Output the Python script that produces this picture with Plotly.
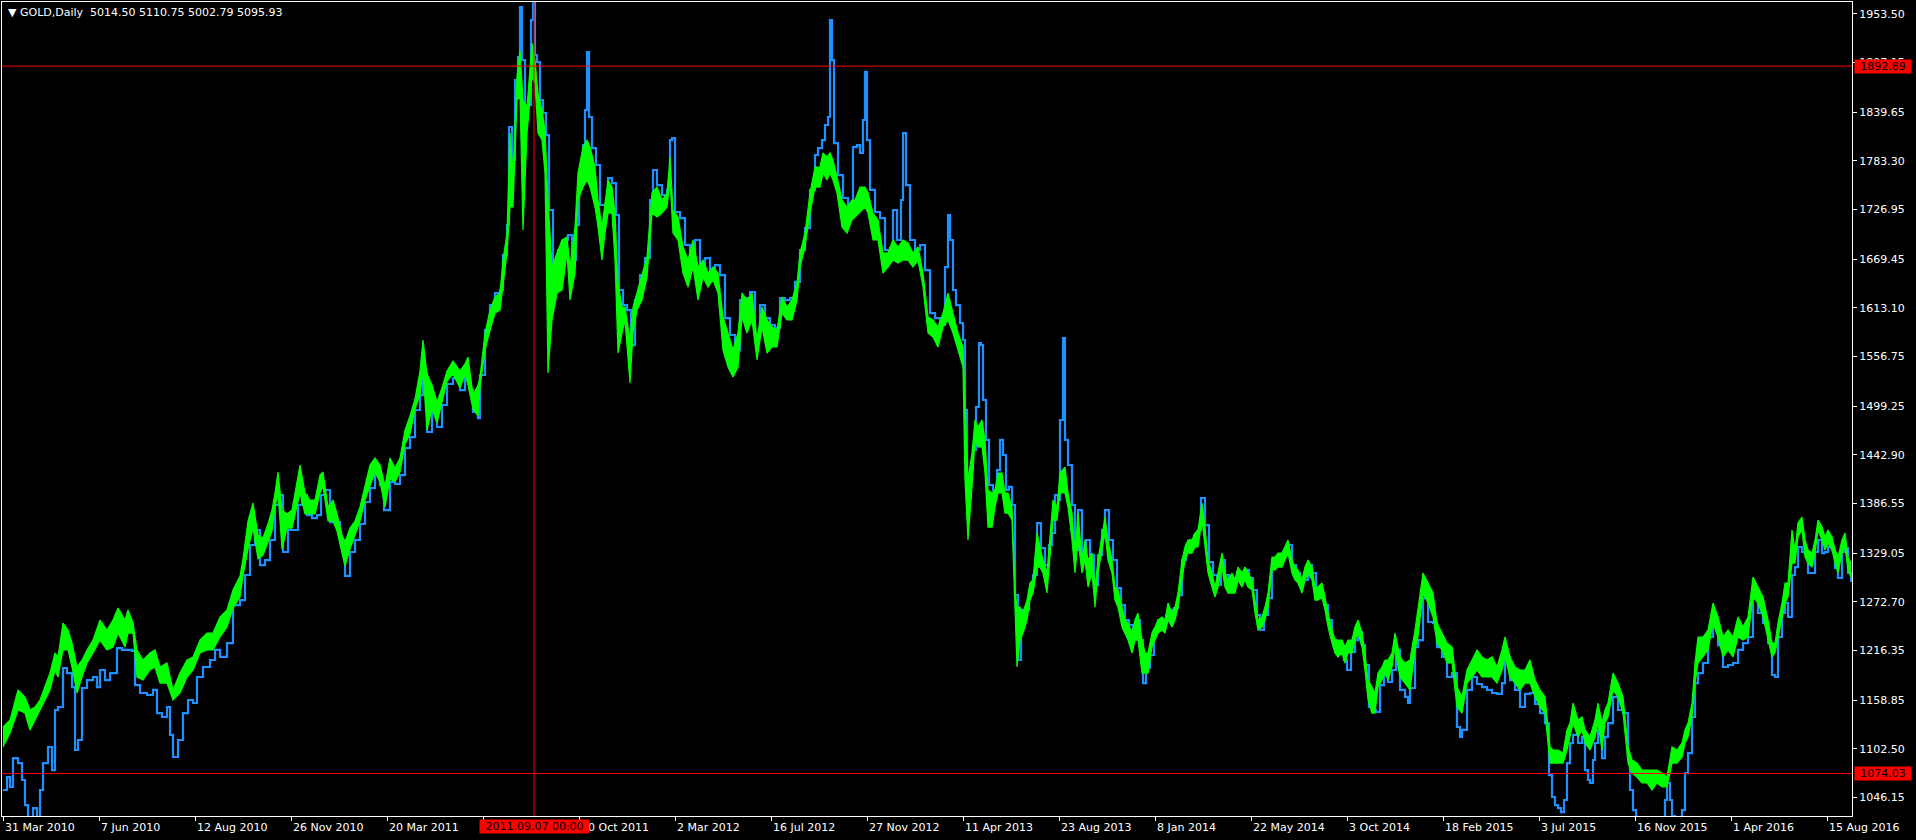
import plotly.graph_objects as go

# ---------------- data ----------------
GREEN_BAR = [
    3, 10, 18, 25, 30, 35, 40, 45, 50, 55,
    58, 63, 68, 72, 77, 82, 87, 93, 100, 107,
    113, 118, 125, 128, 133, 137, 143, 150, 155, 160,
    167, 173, 180, 187, 193, 200, 207, 213, 220, 227,
    233, 240, 243, 248, 253, 258, 263, 268, 272, 275,
    278, 282, 287, 292, 297, 300, 305, 310, 315, 320,
    323, 328, 333, 337, 342, 345, 350, 355, 360, 365,
    370, 375, 380, 385, 390, 395, 400, 405, 410, 415,
    420, 423, 427, 432, 437, 442, 447, 453, 460, 465,
    468, 473, 478, 480, 485, 490, 495, 500, 503, 507,
    510, 513, 517, 520, 523, 527, 532, 535, 538, 542,
    545, 548, 552, 557, 562, 567, 570, 575, 578, 583,
    587, 590, 595, 598, 602, 605, 608, 612, 615, 618,
    622, 625, 630, 633, 637, 642, 647, 652, 657, 662,
    667, 670, 673, 678, 683, 688, 693, 698, 703, 708,
    713, 718, 723, 728, 733, 738, 742, 747, 752, 757,
    762, 767, 772, 777, 782, 787, 792, 797, 800, 805,
    810, 815, 820, 823, 827, 830, 833, 837, 842, 847,
    852, 855, 860, 865, 868, 873, 878, 883, 888, 893,
    898, 903, 908, 913, 918, 923, 928, 933, 938, 943,
    948, 953, 958, 963, 965, 968, 972, 975, 978, 982,
    985, 988, 992, 995, 998, 1002, 1005, 1008, 1012, 1015,
    1017, 1020, 1023, 1027, 1030, 1033, 1037, 1040, 1043, 1047,
    1050, 1053, 1057, 1060, 1065, 1068, 1072, 1075, 1078, 1082,
    1085, 1088, 1092, 1095, 1098, 1102, 1105, 1108, 1112, 1115,
    1118, 1122, 1125, 1128, 1132, 1135, 1138, 1142, 1145, 1148,
    1152, 1155, 1158, 1162, 1165, 1168, 1172, 1175, 1178, 1182,
    1185, 1188, 1192, 1195, 1198, 1202, 1205, 1208, 1212, 1215,
    1218, 1222, 1225, 1228, 1232, 1235, 1238, 1242, 1245, 1248,
    1252, 1255, 1258, 1262, 1265, 1268, 1272, 1275, 1278, 1282,
    1285, 1288, 1292, 1295, 1298, 1302, 1305, 1308, 1312, 1315,
    1318, 1322, 1325, 1328, 1332, 1335, 1338, 1342, 1345, 1348,
    1352, 1355, 1358, 1362, 1365, 1368, 1372, 1375, 1378, 1382,
    1385, 1388, 1392, 1395, 1398, 1400, 1405, 1410, 1415, 1418,
    1423, 1428, 1433, 1437, 1442, 1447, 1452, 1457, 1462, 1467,
    1472, 1477, 1482, 1487, 1492, 1497, 1502, 1505, 1510, 1515,
    1520, 1525, 1530, 1535, 1540, 1545, 1550, 1553, 1558, 1563,
    1567, 1570, 1573, 1578, 1582, 1585, 1590, 1595, 1598, 1602,
    1605, 1608, 1613, 1618, 1623, 1628, 1632, 1637, 1642, 1647,
    1652, 1657, 1662, 1667, 1672, 1677, 1682, 1685, 1688, 1692,
    1695, 1698, 1703, 1708, 1713, 1718, 1723, 1728, 1733, 1738,
    1743, 1748, 1753, 1758, 1763, 1768, 1772, 1775, 1778, 1782,
    1785, 1788, 1792, 1795, 1798, 1802, 1805, 1808, 1812, 1815,
    1818, 1822, 1825, 1828, 1832, 1835, 1838, 1842, 1845, 1848,
    1851,
]

GREEN_HIGH = [
    1127.8, 1135.9, 1170.7, 1162.6, 1147.5, 1151.0, 1159.1, 1174.1, 1190.3, 1213.5,
    1208.9, 1248.2, 1240.1, 1225.0, 1197.3, 1205.4, 1217.0, 1228.5, 1251.7, 1240.1,
    1251.7, 1265.6, 1251.7, 1263.3, 1248.2, 1217.0, 1205.4, 1213.5, 1217.0, 1197.3,
    1201.9, 1170.7, 1190.3, 1205.4, 1208.9, 1228.5, 1236.6, 1236.6, 1255.2, 1263.3,
    1286.4, 1302.7, 1322.3, 1366.3, 1387.1, 1350.1, 1346.6, 1362.8, 1379.0, 1398.7,
    1423.0, 1379.0, 1374.4, 1379.0, 1414.9, 1431.1, 1398.7, 1390.6, 1390.6, 1419.5,
    1423.0, 1382.5, 1390.6, 1374.4, 1350.1, 1342.0, 1358.1, 1366.3, 1382.5, 1406.9,
    1431.1, 1439.2, 1431.1, 1406.9, 1439.2, 1427.6, 1439.2, 1471.6, 1487.9, 1507.5,
    1539.9, 1575.8, 1536.5, 1523.7, 1504.1, 1520.2, 1539.9, 1551.5, 1539.9, 1548.1,
    1556.1, 1512.1, 1523.7, 1533.0, 1583.9, 1610.5, 1625.6, 1630.2, 1668.4, 1699.7,
    1815.4, 1769.1, 1880.3, 1911.5, 1853.6, 1845.5, 1919.6, 1899.9, 1861.7, 1842.1,
    1818.9, 1737.9, 1660.3, 1676.5, 1691.6, 1695.1, 1660.3, 1706.6, 1769.1, 1799.2,
    1807.3, 1799.2, 1776.1, 1737.9, 1706.6, 1734.4, 1761.0, 1752.9, 1722.8, 1641.8,
    1614.0, 1614.0, 1575.8, 1614.0, 1630.2, 1653.3, 1671.9, 1746.0, 1752.9, 1737.9,
    1746.0, 1787.7, 1726.3, 1718.2, 1683.5, 1668.4, 1691.6, 1660.3, 1668.4, 1653.3,
    1660.3, 1653.3, 1602.4, 1583.9, 1564.2, 1583.9, 1630.2, 1622.1, 1630.2, 1575.8,
    1614.0, 1599.0, 1590.9, 1587.4, 1625.6, 1614.0, 1622.1, 1641.8, 1676.5, 1699.7,
    1746.0, 1776.1, 1776.1, 1792.3, 1787.7, 1792.3, 1784.2, 1764.5, 1737.9, 1729.8,
    1737.9, 1737.9, 1752.9, 1752.9, 1746.0, 1722.8, 1714.7, 1676.5, 1676.5, 1691.6,
    1683.5, 1691.6, 1688.1, 1676.5, 1683.5, 1653.3, 1602.4, 1599.0, 1590.9, 1607.0,
    1630.2, 1607.0, 1583.9, 1567.7, 1498.3, 1413.8, 1445.0, 1483.2, 1475.1, 1483.2,
    1460.1, 1402.2, 1398.7, 1402.2, 1421.8, 1421.8, 1398.7, 1398.7, 1382.5, 1286.4,
    1266.7, 1266.7, 1259.8, 1274.8, 1294.5, 1298.0, 1352.4, 1336.2, 1321.1, 1306.1,
    1344.3, 1390.6, 1382.5, 1421.8, 1428.8, 1398.7, 1375.5, 1329.2, 1375.5, 1321.1,
    1344.3, 1321.1, 1329.2, 1289.9, 1321.1, 1352.4, 1370.9, 1344.3, 1321.1, 1289.9,
    1286.4, 1266.7, 1251.7, 1248.2, 1236.6, 1251.7, 1259.8, 1228.5, 1213.5, 1213.5,
    1236.6, 1243.6, 1251.7, 1255.2, 1251.7, 1271.3, 1259.8, 1266.7, 1282.9, 1321.1,
    1336.2, 1344.3, 1344.3, 1352.4, 1355.9, 1387.1, 1359.3, 1321.1, 1306.1, 1289.9,
    1306.1, 1329.2, 1306.1, 1298.0, 1306.1, 1298.0, 1313.0, 1306.1, 1313.0, 1306.1,
    1298.0, 1274.8, 1251.7, 1255.2, 1266.7, 1282.9, 1324.6, 1324.6, 1329.2, 1329.2,
    1336.2, 1344.3, 1321.1, 1313.0, 1309.6, 1298.0, 1313.0, 1321.1, 1313.0, 1289.9,
    1289.9, 1294.5, 1278.3, 1259.8, 1240.1, 1228.5, 1228.5, 1228.5, 1220.4, 1228.5,
    1228.5, 1243.6, 1251.7, 1236.6, 1213.5, 1182.2, 1174.1, 1167.2, 1190.3, 1197.3,
    1205.4, 1205.4, 1213.5, 1236.6, 1220.4, 1208.9, 1201.9, 1205.4, 1240.1, 1263.3,
    1306.1, 1294.5, 1282.9, 1248.2, 1236.6, 1225.0, 1220.4, 1174.1, 1162.6, 1193.8,
    1205.4, 1217.0, 1208.9, 1205.4, 1208.9, 1197.3, 1217.0, 1232.0, 1208.9, 1197.3,
    1193.8, 1193.8, 1205.4, 1182.2, 1170.7, 1162.6, 1104.7, 1101.2, 1101.2, 1097.7,
    1124.4, 1132.4, 1155.6, 1135.9, 1139.4, 1124.4, 1116.3, 1135.9, 1155.6, 1132.4,
    1147.5, 1155.6, 1190.3, 1178.7, 1162.6, 1104.7, 1089.6, 1086.1, 1078.0, 1078.0,
    1078.0, 1078.0, 1074.5, 1069.9, 1104.7, 1101.2, 1109.3, 1124.4, 1132.4, 1155.6,
    1201.9, 1232.0, 1232.0, 1240.1, 1271.3, 1255.2, 1232.0, 1240.1, 1232.0, 1255.2,
    1243.6, 1255.2, 1301.5, 1289.9, 1278.3, 1251.7, 1225.0, 1225.0, 1248.2, 1271.3,
    1294.5, 1294.5, 1355.9, 1332.7, 1363.9, 1370.9, 1344.3, 1332.7, 1329.2, 1344.3,
    1367.4, 1359.3, 1347.8, 1355.9, 1347.8, 1332.7, 1324.6, 1344.3, 1352.4, 1324.6,
    1317.6,
]

GREEN_LOW = [
    1104.7, 1120.9, 1147.5, 1144.0, 1124.4, 1135.9, 1147.5, 1159.1, 1170.7, 1193.8,
    1185.7, 1217.0, 1217.0, 1197.3, 1167.2, 1185.7, 1201.9, 1213.5, 1228.5, 1217.0,
    1220.4, 1236.6, 1220.4, 1236.6, 1236.6, 1185.7, 1182.2, 1193.8, 1197.3, 1178.7,
    1178.7, 1159.1, 1167.2, 1185.7, 1193.8, 1213.5, 1217.0, 1217.0, 1232.0, 1243.6,
    1265.6, 1278.3, 1302.7, 1333.9, 1358.1, 1322.3, 1326.9, 1342.0, 1354.7, 1382.5,
    1398.7, 1333.9, 1358.1, 1358.1, 1382.5, 1398.7, 1374.4, 1374.4, 1374.4, 1398.7,
    1406.9, 1366.3, 1366.3, 1354.7, 1326.9, 1314.2, 1333.9, 1350.1, 1366.3, 1390.6,
    1406.9, 1423.0, 1411.5, 1382.5, 1414.9, 1411.5, 1423.0, 1455.5, 1467.0, 1496.0,
    1512.1, 1539.9, 1471.6, 1496.0, 1479.7, 1504.1, 1528.3, 1536.5, 1520.2, 1536.5,
    1523.7, 1496.0, 1487.9, 1521.4, 1564.2, 1587.4, 1607.0, 1610.5, 1641.8, 1676.5,
    1729.8, 1729.8, 1853.6, 1857.1, 1703.2, 1815.4, 1880.3, 1873.3, 1815.4, 1807.3,
    1769.1, 1537.6, 1599.0, 1630.2, 1633.7, 1676.5, 1622.1, 1653.3, 1737.9, 1752.9,
    1761.0, 1752.9, 1729.8, 1706.6, 1668.4, 1699.7, 1722.8, 1722.8, 1668.4, 1560.7,
    1583.9, 1599.0, 1526.0, 1583.9, 1610.5, 1622.1, 1648.7, 1722.8, 1718.2, 1722.8,
    1729.8, 1761.0, 1699.7, 1691.6, 1653.3, 1637.2, 1660.3, 1622.1, 1648.7, 1637.2,
    1645.3, 1630.2, 1564.2, 1544.6, 1533.0, 1544.6, 1602.4, 1583.9, 1599.0, 1552.7,
    1590.9, 1560.7, 1567.7, 1567.7, 1607.0, 1599.0, 1599.0, 1622.1, 1660.3, 1683.5,
    1722.8, 1752.9, 1752.9, 1769.1, 1761.0, 1769.1, 1761.0, 1746.0, 1706.6, 1699.7,
    1714.7, 1718.2, 1722.8, 1729.8, 1722.8, 1691.6, 1691.6, 1653.3, 1660.3, 1668.4,
    1664.9, 1668.4, 1668.4, 1660.3, 1668.4, 1637.2, 1583.9, 1579.3, 1567.7, 1590.9,
    1599.0, 1583.9, 1564.2, 1544.6, 1413.8, 1344.3, 1405.7, 1460.1, 1452.0, 1452.0,
    1421.8, 1359.3, 1359.3, 1382.5, 1398.7, 1398.7, 1375.5, 1375.5, 1367.4, 1263.3,
    1197.3, 1228.5, 1236.6, 1251.7, 1274.8, 1282.9, 1313.0, 1313.0, 1306.1, 1282.9,
    1321.1, 1367.4, 1367.4, 1398.7, 1398.7, 1382.5, 1344.3, 1306.1, 1344.3, 1306.1,
    1321.1, 1289.9, 1306.1, 1266.7, 1306.1, 1332.7, 1352.4, 1321.1, 1306.1, 1274.8,
    1266.7, 1243.6, 1236.6, 1228.5, 1213.5, 1228.5, 1228.5, 1190.3, 1190.3, 1190.3,
    1220.4, 1228.5, 1236.6, 1240.1, 1236.6, 1251.7, 1243.6, 1251.7, 1266.7, 1298.0,
    1321.1, 1329.2, 1329.2, 1336.2, 1336.2, 1367.4, 1336.2, 1306.1, 1289.9, 1278.3,
    1289.9, 1313.0, 1289.9, 1282.9, 1282.9, 1282.9, 1298.0, 1289.9, 1298.0, 1289.9,
    1286.4, 1259.8, 1240.1, 1243.6, 1251.7, 1266.7, 1309.6, 1309.6, 1313.0, 1313.0,
    1321.1, 1329.2, 1306.1, 1298.0, 1294.5, 1282.9, 1298.0, 1306.1, 1298.0, 1274.8,
    1274.8, 1278.3, 1263.3, 1243.6, 1225.0, 1213.5, 1208.9, 1213.5, 1201.9, 1213.5,
    1213.5, 1228.5, 1236.6, 1220.4, 1193.8, 1159.1, 1144.0, 1144.0, 1174.1, 1182.2,
    1190.3, 1182.2, 1197.3, 1220.4, 1197.3, 1185.7, 1178.7, 1170.7, 1217.0, 1232.0,
    1282.9, 1271.3, 1255.2, 1225.0, 1217.0, 1201.9, 1201.9, 1151.0, 1144.0, 1178.7,
    1185.7, 1193.8, 1185.7, 1185.7, 1185.7, 1178.7, 1193.8, 1208.9, 1185.7, 1178.7,
    1170.7, 1178.7, 1178.7, 1162.6, 1151.0, 1144.0, 1086.1, 1086.1, 1086.1, 1086.1,
    1101.2, 1116.3, 1132.4, 1116.3, 1124.4, 1109.3, 1101.2, 1116.3, 1132.4, 1101.2,
    1132.4, 1139.4, 1170.7, 1162.6, 1144.0, 1086.1, 1074.5, 1069.9, 1063.0, 1063.0,
    1054.9, 1063.0, 1058.4, 1058.4, 1086.1, 1086.1, 1093.1, 1109.3, 1116.3, 1139.4,
    1178.7, 1201.9, 1208.9, 1217.0, 1248.2, 1232.0, 1208.9, 1217.0, 1208.9, 1232.0,
    1228.5, 1232.0, 1278.3, 1271.3, 1255.2, 1228.5, 1208.9, 1213.5, 1232.0, 1255.2,
    1271.3, 1278.3, 1317.6, 1317.6, 1347.8, 1355.9, 1324.6, 1317.6, 1313.0, 1329.2,
    1355.9, 1344.3, 1332.7, 1340.8, 1332.7, 1317.6, 1306.1, 1329.2, 1336.2, 1309.6,
    1301.5,
]

BLUE_BAR = [
    3, 7, 10, 13, 18, 22, 25, 28, 30, 33,
    37, 40, 43, 48, 52, 55, 58, 63, 67, 72,
    75, 78, 82, 87, 93, 97, 100, 105, 110, 117,
    122, 127, 132, 135, 140, 147, 153, 157, 162, 167,
    170, 173, 178, 183, 188, 193, 197, 203, 210, 215,
    220, 227, 233, 240, 245, 250, 255, 260, 265, 270,
    275, 279, 283, 288, 293, 298, 302, 307, 312, 317,
    321, 325, 330, 335, 340, 345, 350, 355, 360, 365,
    370, 375, 380, 384, 390, 395, 400, 405, 410, 415,
    420, 423, 427, 432, 437, 442, 447, 453, 460, 465,
    470, 473, 478, 480, 485, 490, 495, 500, 503, 507,
    509, 512, 515, 518, 520, 522, 525, 528, 531, 533,
    535, 537, 540, 543, 546, 549, 553, 558, 563, 568,
    572, 576, 579, 583, 585, 587, 589, 592, 596, 600,
    604, 608, 612, 616, 619, 623, 627, 631, 635, 640,
    645, 650, 653, 657, 662, 667, 670, 672, 675, 680,
    685, 690, 695, 700, 705, 710, 715, 720, 725, 730,
    735, 740, 745, 750, 755, 760, 765, 770, 775, 780,
    785, 790, 795, 800, 805, 810, 815, 818, 822, 825,
    828, 830, 832, 834, 838, 843, 848, 853, 857, 860,
    863, 865, 867, 870, 875, 880, 885, 890, 893, 897,
    901, 903, 906, 910, 915, 920, 925, 930, 935, 940,
    945, 948, 950, 953, 956, 960, 963, 965, 967, 970,
    973, 976, 979, 981, 983, 986, 989, 993, 997, 1000,
    1003, 1006, 1009, 1012, 1015, 1018, 1021, 1025, 1029, 1033,
    1037, 1041, 1045, 1049, 1052, 1055, 1058, 1060, 1063, 1065,
    1068, 1072, 1075, 1078, 1082, 1086, 1090, 1094, 1098, 1102,
    1105, 1109, 1113, 1117, 1121, 1125, 1129, 1133, 1137, 1140,
    1143, 1146, 1150, 1154, 1158, 1162, 1166, 1170, 1174, 1178,
    1182, 1186, 1190, 1194, 1198, 1201, 1205, 1209, 1213, 1217,
    1221, 1225, 1229, 1233, 1237, 1241, 1245, 1249, 1253, 1257,
    1260, 1264, 1268, 1272, 1276, 1280, 1284, 1288, 1292, 1296,
    1300, 1304, 1308, 1312, 1316, 1320, 1324, 1328, 1332, 1336,
    1340, 1344, 1347, 1351, 1355, 1358, 1362, 1365, 1369, 1373,
    1376, 1380, 1384, 1388, 1392, 1396, 1400, 1405, 1408, 1410,
    1415, 1418, 1423, 1428, 1433, 1437, 1442, 1447, 1452, 1457,
    1460, 1462, 1467, 1472, 1477, 1482, 1487, 1492, 1497, 1502,
    1505, 1510, 1515, 1520, 1525, 1530, 1535, 1540, 1545, 1549,
    1552, 1555, 1558, 1561, 1564, 1567, 1570, 1573, 1578, 1582,
    1585, 1588, 1590, 1593, 1595, 1598, 1602, 1605, 1608, 1613,
    1618, 1623, 1628, 1630, 1633, 1636, 1640, 1645, 1650, 1655,
    1660, 1665, 1667, 1670, 1672, 1675, 1678, 1682, 1685, 1688,
    1692, 1695, 1698, 1703, 1708, 1713, 1718, 1723, 1728, 1733,
    1738, 1743, 1748, 1753, 1758, 1763, 1768, 1772, 1775, 1778,
    1782, 1785, 1788, 1792, 1795, 1798, 1802, 1805, 1808, 1812,
    1815, 1818, 1822, 1825, 1828, 1832, 1835, 1838, 1842, 1845,
    1848, 1851,
]

BLUE_CLOSE = [
    1054.9, 1069.9, 1058.4, 1091.9, 1086.1, 1066.5, 1037.5, 1015.0, 1005.0, 1034.0,
    1010.0, 1054.9, 1086.1, 1104.7, 1078.0, 1147.5, 1151.0, 1196.1, 1190.3, 1174.1,
    1101.2, 1112.8, 1173.0, 1182.2, 1185.7, 1174.1, 1193.8, 1182.2, 1190.3, 1219.2,
    1217.0, 1217.0, 1215.8, 1176.4, 1167.2, 1164.9, 1170.7, 1144.0, 1139.4, 1151.0,
    1118.6, 1093.1, 1112.8, 1144.0, 1159.1, 1155.6, 1185.7, 1197.3, 1205.4, 1217.0,
    1208.9, 1225.0, 1269.0, 1274.8, 1303.8, 1338.5, 1355.9, 1315.3, 1321.1, 1344.3,
    1384.8, 1396.4, 1330.4, 1355.9, 1355.9, 1384.8, 1396.4, 1373.2, 1369.7, 1373.2,
    1396.4, 1402.2, 1365.1, 1365.1, 1344.3, 1302.7, 1330.4, 1344.3, 1362.8, 1388.3,
    1404.5, 1419.5, 1408.0, 1379.0, 1411.5, 1409.2, 1419.5, 1450.8, 1463.5, 1494.8,
    1512.1, 1537.6, 1469.3, 1494.8, 1475.1, 1500.6, 1524.9, 1531.8, 1517.9, 1531.8,
    1517.9, 1492.5, 1485.5, 1535.3, 1587.4, 1616.3, 1630.2, 1633.7, 1674.2, 1708.9,
    1822.4, 1784.2, 1876.8, 1903.4, 1961.3, 1899.9, 1830.5, 1847.8, 1946.2, 1967.1,
    1905.7, 1897.6, 1853.6, 1838.6, 1813.1, 1726.3, 1662.6, 1680.0, 1691.6, 1697.4,
    1668.4, 1708.9, 1769.1, 1801.5, 1842.1, 1909.2, 1834.0, 1798.0, 1778.4, 1732.1,
    1732.1, 1763.3, 1757.5, 1720.5, 1633.7, 1616.3, 1610.5, 1570.0, 1622.1, 1651.0,
    1670.7, 1737.9, 1772.6, 1755.2, 1743.7, 1749.5, 1807.3, 1809.6, 1724.0, 1717.0,
    1685.8, 1670.7, 1691.6, 1662.6, 1670.7, 1656.8, 1662.6, 1651.0, 1601.2, 1581.6,
    1564.2, 1622.1, 1624.4, 1631.4, 1581.6, 1616.3, 1601.2, 1593.2, 1589.7, 1624.4,
    1622.1, 1624.4, 1643.0, 1680.0, 1705.4, 1749.5, 1790.0, 1798.0, 1807.3, 1824.7,
    1834.0, 1946.2, 1899.9, 1803.8, 1766.8, 1740.2, 1732.1, 1799.2, 1801.5, 1792.3,
    1830.5, 1886.1, 1807.3, 1749.5, 1724.0, 1717.0, 1680.0, 1682.3, 1726.3, 1691.6,
    1737.9, 1815.4, 1755.2, 1691.6, 1680.0, 1685.8, 1656.8, 1607.0, 1601.2, 1593.2,
    1660.3, 1720.5, 1691.6, 1633.7, 1616.3, 1595.5, 1575.8, 1494.8, 1390.6, 1425.3,
    1448.5, 1498.3, 1572.3, 1570.0, 1506.4, 1460.1, 1408.0, 1402.2, 1425.3, 1460.1,
    1442.7, 1402.2, 1405.7, 1384.8, 1280.6, 1205.4, 1263.3, 1263.3, 1286.4, 1303.8,
    1363.9, 1335.0, 1315.3, 1338.5, 1352.4, 1396.4, 1390.6, 1483.2, 1578.1, 1460.1,
    1431.1, 1384.8, 1332.7, 1379.0, 1326.9, 1344.3, 1326.9, 1292.2, 1326.9, 1355.9,
    1379.0, 1344.3, 1321.1, 1288.7, 1269.0, 1251.7, 1245.9, 1234.3, 1251.7, 1228.5,
    1178.7, 1196.1, 1211.2, 1240.1, 1251.7, 1251.7, 1257.5, 1263.3, 1265.6, 1280.6,
    1321.1, 1338.5, 1344.3, 1350.1, 1355.9, 1392.9, 1361.6, 1318.8, 1303.8, 1292.2,
    1321.1, 1303.8, 1292.2, 1300.3, 1307.3, 1303.8, 1309.6, 1300.3, 1286.4, 1257.5,
    1240.1, 1257.5, 1277.1, 1321.1, 1321.1, 1323.4, 1330.4, 1338.5, 1315.3, 1306.1,
    1295.7, 1298.0, 1315.3, 1306.1, 1280.6, 1280.6, 1269.0, 1251.7, 1228.5, 1217.0,
    1214.7, 1205.4, 1193.8, 1214.7, 1228.5, 1237.8, 1222.7, 1199.6, 1151.0, 1147.5,
    1145.2, 1176.4, 1188.0, 1179.9, 1193.8, 1217.0, 1170.7, 1162.6, 1155.6, 1173.0,
    1220.4, 1228.5, 1277.1, 1249.4, 1248.2, 1220.4, 1208.9, 1185.7, 1190.3, 1127.8,
    1116.3, 1124.4, 1170.7, 1185.7, 1177.6, 1174.1, 1170.7, 1167.2, 1166.1, 1178.7,
    1208.9, 1182.2, 1170.7, 1151.0, 1166.1, 1167.2, 1154.5, 1144.0, 1132.4, 1072.2,
    1046.8, 1037.5, 1034.0, 1029.4, 1043.3, 1086.1, 1109.3, 1118.6, 1109.3, 1116.3,
    1078.0, 1066.5, 1063.0, 1089.6, 1109.3, 1124.4, 1091.9, 1116.3, 1132.4, 1162.6,
    1147.5, 1144.0, 1093.1, 1054.9, 1031.7, 1015.0, 1008.6, 997.0, 997.0, 1003.0,
    1003.0, 1043.3, 1063.0, 1043.3, 1024.8, 1008.6, 1020.2, 1031.7, 1074.5, 1097.7,
    1139.4, 1178.7, 1190.3, 1201.9, 1232.0, 1248.2, 1222.7, 1197.3, 1199.6, 1201.9,
    1217.0, 1225.0, 1232.0, 1278.3, 1259.8, 1248.2, 1225.0, 1188.0, 1185.7, 1232.0,
    1259.8, 1271.3, 1255.2, 1303.8, 1313.0, 1336.2, 1330.4, 1329.2, 1306.1, 1306.1,
    1330.4, 1344.3, 1329.2, 1330.4, 1336.2, 1332.7, 1311.9, 1300.3, 1330.4, 1335.0,
    1306.1, 1295.7,
]

Y_TICKS = [1953.50, 1897.15, 1839.65, 1783.30, 1726.95, 1669.45, 1613.10, 1556.75,
           1499.25, 1442.90, 1386.55, 1329.05, 1272.70, 1216.35, 1158.85, 1102.50, 1046.15]

X_TICK_BARS = [3, 99, 195, 291, 387, 483, 579, 675, 771, 867,
               963, 1059, 1155, 1251, 1347, 1443, 1539, 1635, 1731, 1827]
# the label under tick 483 is hidden behind the cursor date box in the reference
X_TICK_LABELS = ["31 Mar 2010", "7 Jun 2010", "12 Aug 2010", "26 Nov 2010", "20 Mar 2011",
                 "", "20 Oct 2011", "2 Mar 2012", "16 Jul 2012", "27 Nov 2012",
                 "11 Apr 2013", "23 Aug 2013", "8 Jan 2014", "22 May 2014", "3 Oct 2014",
                 "18 Feb 2015", "3 Jul 2015", "16 Nov 2015", "1 Apr 2016", "15 Aug 2016"]

H_LEVELS = [1892.89, 1074.03]
V_BAR = 534
V_LABEL = "2011.09.07 00:00"
HEADER = "\u25BC GOLD,Daily\u00a0 5014.50 5110.75 5002.79 5095.93"

X_RANGE = [2, 1852]
Y_RANGE = [1024.8, 1967.1]

assert len(GREEN_BAR) == len(GREEN_HIGH) == len(GREEN_LOW)
assert len(BLUE_BAR) == len(BLUE_CLOSE)

# ---------------- figure ----------------
W, H = 1916, 840
ML, MR, MT, MB = 2, 64, 2, 24
PW, PH = W - ML - MR, H - MT - MB
FONT = "DejaVu Sans"
GREEN = "#00FF00"
BLUE = "#1E90FF"
RED = "#FF0000"


def px_x(p):
    return (p - ML) / PW


def px_y(p):
    return (H - MB - p) / PH


fig = go.Figure()
fig.add_trace(go.Scatter(x=BLUE_BAR, y=BLUE_CLOSE, mode="lines", line_shape="hv",
                         line=dict(color=BLUE, width=2.2), hoverinfo="skip"))
fig.add_trace(go.Scatter(x=GREEN_BAR, y=GREEN_HIGH, mode="lines",
                         line=dict(color=GREEN, width=1.2), hoverinfo="skip"))
fig.add_trace(go.Scatter(x=GREEN_BAR, y=GREEN_LOW, mode="lines",
                         line=dict(color=GREEN, width=1.2), fill="tonexty",
                         fillcolor=GREEN, hoverinfo="skip"))

shapes = []
for lv in H_LEVELS:
    shapes.append(dict(type="line", xref="paper", yref="y", x0=0, x1=1, y0=lv, y1=lv,
                       line=dict(color=RED, width=1)))
shapes.append(dict(type="line", xref="x", yref="paper", x0=V_BAR, x1=V_BAR, y0=0, y1=1,
                   line=dict(color=RED, width=1)))

annotations = [dict(text=HEADER, xref="paper", yref="paper", x=px_x(6), y=px_y(12.5),
                    xanchor="left", yanchor="middle", showarrow=False,
                    font=dict(family=FONT, size=11, color="#FFFFFF"))]
for b, lab in zip(X_TICK_BARS, X_TICK_LABELS):
    if not lab:
        continue
    annotations.append(dict(text=lab, xref="x", yref="paper", x=b, y=px_y(827.5),
                            xanchor="left", yanchor="middle", showarrow=False,
                            font=dict(family=FONT, size=11, color="#FFFFFF")))
for lv in H_LEVELS:
    annotations.append(dict(text=f"{lv:.2f}", xref="paper", yref="y", x=px_x(1854), y=lv,
                            xanchor="left", yanchor="middle", showarrow=False,
                            bgcolor=RED, borderpad=0, width=56, height=13, align="center",
                            font=dict(family=FONT, size=11, color="#000000")))
annotations.append(dict(text=V_LABEL, xref="x", yref="paper", x=V_BAR, y=px_y(826.5),
                        xanchor="center", yanchor="middle", showarrow=False,
                        bgcolor=RED, borderpad=0, width=109, height=13, align="center",
                        font=dict(family=FONT, size=11, color="#000000")))

fig.update_layout(
    width=W, height=H, autosize=False,
    margin=dict(l=ML, r=MR, t=MT, b=MB, pad=0),
    paper_bgcolor="#000000", plot_bgcolor="#000000",
    showlegend=False, shapes=shapes, annotations=annotations,
    font=dict(family=FONT, size=11, color="#FFFFFF"),
    xaxis=dict(range=X_RANGE, showgrid=False, zeroline=False, showline=True,
               linecolor="#FFFFFF", linewidth=1, mirror=True, ticks="outside",
               ticklen=4, tickcolor="#FFFFFF", tickvals=X_TICK_BARS,
               showticklabels=False, fixedrange=True),
    yaxis=dict(range=Y_RANGE, side="right", showgrid=False, zeroline=False, showline=True,
               linecolor="#FFFFFF", linewidth=1, mirror=True, ticks="outside",
               ticklen=4, tickcolor="#FFFFFF", tickvals=Y_TICKS,
               ticktext=[f"{v:.2f}" for v in Y_TICKS],
               tickfont=dict(family=FONT, size=11, color="#FFFFFF"), fixedrange=True),
)

fig.write_html("out.html", config={"displayModeBar": False},
               post_script="document.body.style.margin='0px';document.body.style.overflow='hidden';")
